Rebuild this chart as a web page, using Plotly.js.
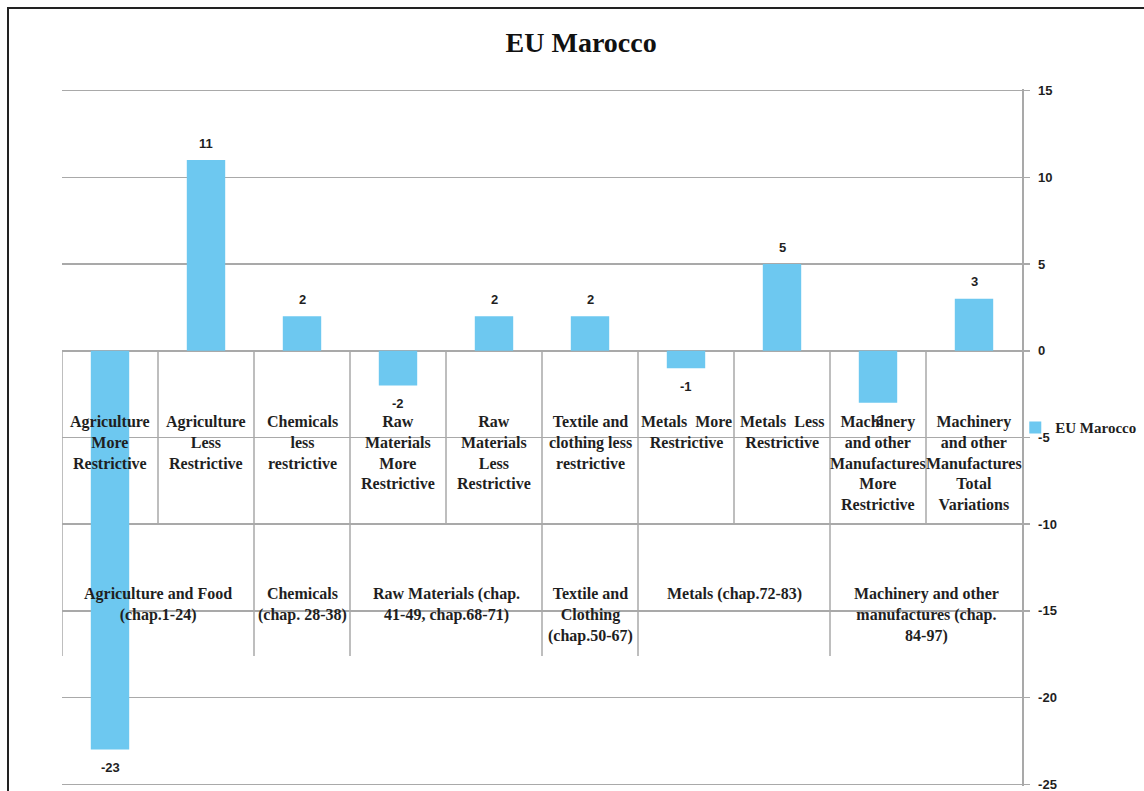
<!DOCTYPE html>
<html>
<head>
<meta charset="utf-8">
<script src="https://cdn.plot.ly/plotly-3.0.1.min.js"></script>
<style>
  html, body { margin: 0; padding: 0; background: #ffffff; }
  #chart { width: 1144px; height: 791px; }
  #frame {
    position: absolute; left: 7px; top: 7px; width: 1160px; height: 820px;
    border-left: 2px solid #222; border-top: 2px solid #222;
    pointer-events: none;
  }
</style>
</head>
<body>
<div id="chart"></div>
<div id="frame"></div>
<script>
// Change in restrictiveness by product section
const categories = [
  "Agriculture More Restrictive",
  "Agriculture Less Restrictive",
  "Chemicals less restrictive",
  "Raw Materials More Restrictive",
  "Raw Materials Less Restrictive",
  "Textile and clothing less restrictive",
  "Metals More Restrictive",
  "Metals Less Restrictive",
  "Machinery and other Manufactures More Restrictive",
  "Machinery and other Manufactures Total Variations"
];
const categoryLabels = [
  "Agriculture<br>More<br>Restrictive",
  "Agriculture<br>Less<br>Restrictive",
  "Chemicals<br>less<br>restrictive",
  "Raw<br>Materials<br>More<br>Restrictive",
  "Raw<br>Materials<br>Less<br>Restrictive",
  "Textile and<br>clothing less<br>restrictive",
  "Metals  More<br>Restrictive",
  "Metals  Less<br>Restrictive",
  "Machinery<br>and other<br>Manufactures<br>More<br>Restrictive",
  "Machinery<br>and other<br>Manufactures<br>Total<br>Variations"
];
const values = [-23, 11, 2, -2, 2, 2, -1, 5, -3, 3];

// Outer grouping of the categories
const groupLabels = [
  "Agriculture and Food<br>(chap.1-24)",
  "Chemicals<br>(chap. 28-38)",
  "Raw Materials (chap.<br>41-49, chap.68-71)",
  "Textile and<br>Clothing<br>(chap.50-67)",
  "Metals (chap.72-83)",
  "Machinery and other<br>manufactures (chap.<br>84-97)"
];
const groupSizes = [2, 1, 2, 1, 2, 2];

const seriesName = "EU Marocco";
const yTicks = [15, 10, 5, 0, -5, -10, -15, -20, -25];

const serif = "Liberation Serif, Times New Roman, serif";
const sans = "Liberation Sans, Arial, sans-serif";
const gridColor = "#a9a9a9";
const textColor = "#1f1f1f";

// depth (in axis units) of the two label rows under the zero line
const innerRowDepth = -10;
const outerRowDepth = -17.6;

// small pad so the outermost gridlines are kept
const rangePad = 0.1;
const yRange = [-25 - rangePad, 15 + rangePad];

const trace = {
  type: "bar",
  x: categories.map((_, i) => i),
  y: values,
  name: seriesName,
  marker: { color: "#6dc8f0" },
  hoverinfo: "y"
};

const annotations = [];
const shapes = [];

// value labels at the bar ends
values.forEach((v, i) => {
  annotations.push({
    x: i, y: v, xref: "x", yref: "y",
    text: String(v), showarrow: false,
    yanchor: "middle", yshift: v >= 0 ? 17 : -18,
    font: { family: sans, size: 13, color: textColor, weight: "bold" }
  });
});

// inner category labels
categoryLabels.forEach((t, i) => {
  annotations.push({
    x: i, y: 0, xref: "x", yref: "y",
    text: t, showarrow: false,
    yanchor: "top", yshift: -60,
    font: { family: serif, size: 16, color: textColor, weight: "bold" }
  });
});

// group labels and dividers
const groupStarts = [];
let start = 0;
groupSizes.forEach((n, g) => {
  groupStarts.push(start);
  annotations.push({
    x: start + (n - 1) / 2, y: 0, xref: "x", yref: "y",
    text: groupLabels[g], showarrow: false,
    yanchor: "top", yshift: -232,
    font: { family: serif, size: 16, color: textColor, weight: "bold" }
  });
  start += n;
});

for (let i = 0; i < categories.length; i++) {
  const isGroupEdge = groupStarts.includes(i);
  shapes.push({
    type: "line", layer: "below", xref: "x", yref: "y",
    x0: i - 0.5, x1: i - 0.5, y0: 0,
    y1: isGroupEdge ? outerRowDepth : innerRowDepth,
    line: { color: gridColor, width: 1.5 }
  });
}

const layout = {
  width: 1144, height: 791,
  margin: { l: 62, r: 122, t: 89.3, b: 5.3, autoexpand: false },
  paper_bgcolor: "#ffffff", plot_bgcolor: "#ffffff",
  title: {
    text: "<b>EU Marocco</b>",
    font: { family: serif, size: 28, color: "#111111" },
    x: 0.508, xanchor: "center", y: 0.947, yanchor: "middle"
  },
  bargap: 0.6,
  showlegend: true,
  legend: {
    x: 0.993, xanchor: "left", y: 0.514, yanchor: "middle",
    itemwidth: 30,
    font: { family: serif, size: 15, color: textColor, weight: "bold" },
    bgcolor: "rgba(0,0,0,0)"
  },
  xaxis: {
    range: [-0.5, categories.length - 0.5],
    showticklabels: false, showgrid: false, zeroline: false,
    showline: false, ticks: "", fixedrange: true
  },
  yaxis: {
    side: "right", range: yRange,
    tickvals: yTicks, ticktext: yTicks.map(String),
    ticklabeloverflow: "allow",
    showline: true, linecolor: gridColor, linewidth: 1.5,
    ticks: "outside", ticklen: 6, tickcolor: gridColor, tickwidth: 1.5,
    ticklabelstandoff: 6,
    showgrid: true, gridcolor: gridColor, gridwidth: 1.5,
    zeroline: true, zerolinecolor: gridColor, zerolinewidth: 1.5,
    tickfont: { family: sans, size: 13, color: textColor, weight: "bold" },
    fixedrange: true
  },
  annotations: annotations,
  shapes: shapes
};

Plotly.newPlot("chart", [trace], layout, { displayModeBar: false, staticPlot: true });
</script>
</body>
</html>
